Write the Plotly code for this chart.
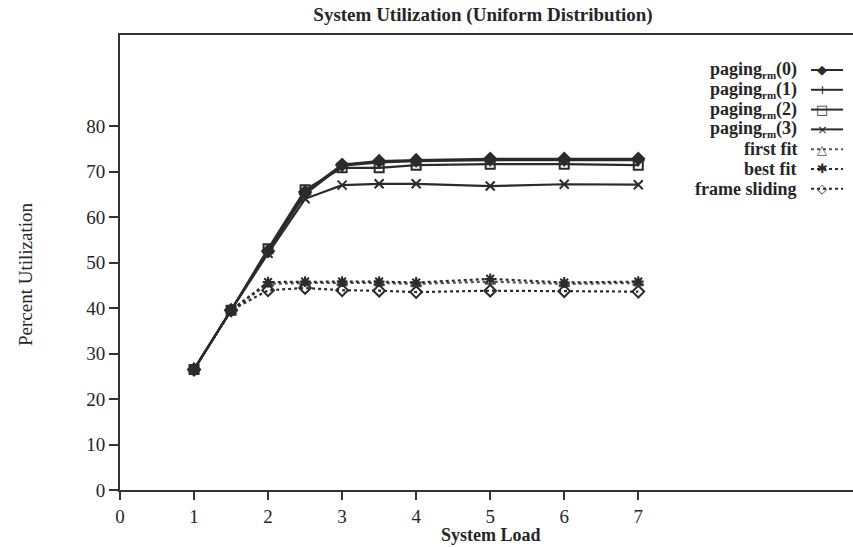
import plotly.graph_objects as go

load = [1, 1.5, 2, 2.5, 3, 3.5, 4, 5, 6, 7]
paging0 = [26.5, 39.5, 52.5, 65.5, 71.5, 72.3, 72.5, 72.8, 72.8, 72.8]
paging1 = [26.5, 39.5, 52.5, 65.0, 71.3, 72.0, 72.3, 72.5, 72.5, 72.5]
paging2 = [26.5, 39.5, 53.0, 66.0, 70.8, 70.8, 71.4, 71.6, 71.6, 71.4]
paging3 = [26.5, 39.5, 52.0, 64.0, 67.0, 67.3, 67.3, 66.8, 67.2, 67.1]
first_fit = [26.5, 39.5, 45.3, 45.5, 45.5, 45.5, 45.3, 45.8, 45.3, 45.5]
best_fit = [26.5, 39.5, 45.7, 45.8, 45.8, 45.8, 45.6, 46.4, 45.6, 45.8]
frame_sliding = [26.5, 39.5, 43.9, 44.4, 43.9, 43.8, 43.5, 43.8, 43.7, 43.6]

SUB = "<sub><span style='font-size:11px'>rm</span></sub>"
names = ["paging" + SUB + "(0)", "paging" + SUB + "(1)", "paging" + SUB + "(2)",
         "paging" + SUB + "(3)", "first fit", "best fit", "frame sliding"]
x_ticks = [0, 1, 2, 3, 4, 5, 6, 7]
y_ticks = [0, 10, 20, 30, 40, 50, 60, 70, 80]

series = [paging0, paging1, paging2, paging3, first_fit, best_fit, frame_sliding]
symbols = ["diamond", "cross-thin-open", "square-open", "x-thin-open",
           "triangle-up-open", "asterisk-open", "diamond-open"]
glyphs = ["\u25C6", "+", "\u25A1", "\u00D7", "\u25B3", "\u2731", "\u25C7"]
dashes = ["solid", "solid", "solid", "solid", "dot", "dot", "dot"]
colors = ["#2b2b2b", "#2b2b2b", "#2b2b2b", "#2b2b2b", "#555555", "#2b2b2b", "#2b2b2b"]

FONT = "Liberation Serif"
INK = "#262626"

# plot area in pixels (layout constants)
W, H = 853, 547
L, R, T, B = 120, 0, 35, 57
PW, PH = W - L - R, H - T - B


def px_x(p):
    return (p - L) / PW


def px_y(p):
    return (H - B - p) / PH


fig = go.Figure()
for ys, nm, sym, dsh, col in zip(series, names, symbols, dashes, colors):
    fig.add_trace(go.Scatter(
        x=load, y=ys, name=nm, mode="lines+markers", showlegend=False,
        line=dict(color=col, width=2.2, dash=dsh),
        marker=dict(symbol=sym, size=9, color=col, line=dict(color=col, width=2)),
    ))

# manual legend: right-aligned text with the key to its right
annotations = []
shapes = []
for i, (nm, g, dsh, col) in enumerate(zip(names, glyphs, dashes, colors)):
    yc = px_y(70 + i * 19.8)
    annotations.append(dict(text="<b>" + nm + "</b>", xref="paper", yref="paper",
                            x=px_x(799), y=yc, xanchor="right", yanchor="middle",
                            showarrow=False,
                            font=dict(family=FONT, size=18, color=INK)))
    shapes.append(dict(type="line", xref="paper", yref="paper",
                       x0=px_x(811), x1=px_x(843), y0=yc, y1=yc,
                       line=dict(color=col, width=2, dash=dsh)))
    annotations.append(dict(text=g, xref="paper", yref="paper",
                            x=px_x(822), y=yc, xanchor="center", yanchor="middle",
                            showarrow=False,
                            font=dict(family="DejaVu Sans", size=13, color=col)))

annotations += [
    dict(text="<b>System Load</b>", xref="paper", yref="paper", x=px_x(491), y=px_y(535),
         xanchor="center", yanchor="middle", showarrow=False,
         font=dict(family=FONT, size=18, color=INK)),
    dict(text="Percent Utilization", xref="paper", yref="paper", x=px_x(25), y=px_y(274),
         textangle=-90, xanchor="center", yanchor="middle", showarrow=False,
         font=dict(family=FONT, size=19, color=INK)),
]

fig.update_layout(
    width=W, height=H,
    margin=dict(l=L, r=R, t=T, b=B),
    paper_bgcolor="white", plot_bgcolor="white",
    font=dict(family=FONT, size=16, color=INK),
    title=dict(text="<b>System Utilization (Uniform Distribution)</b>",
               xref="container", x=483 / W, xanchor="center",
               yref="container", y=1 - 14 / H, yanchor="middle",
               font=dict(family=FONT, size=19, color=INK)),
    showlegend=False,
    xaxis=dict(range=[0, 9.9], tickvals=x_ticks, ticktext=[str(v) for v in x_ticks],
               showgrid=False, zeroline=False, showline=True, linecolor="#333",
               linewidth=2, mirror=True, ticks="outside", ticklen=8, tickwidth=2,
               tickcolor="#333", tickfont=dict(family=FONT, size=19, color=INK)),
    yaxis=dict(range=[0, 100], tickvals=y_ticks, ticktext=[str(v) for v in y_ticks],
               showgrid=False, zeroline=False, showline=True, linecolor="#333",
               linewidth=2, ticks="outside", ticklen=9, tickwidth=2,
               tickcolor="#333", tickfont=dict(family=FONT, size=19, color=INK)),
    annotations=annotations,
    shapes=shapes,
)

fig.write_html("out.html")
